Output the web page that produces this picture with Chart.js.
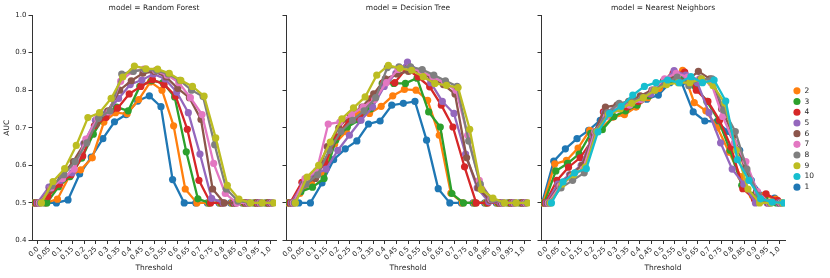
<!DOCTYPE html>
<html>
<head>
<meta charset="utf-8">
<script src="https://cdn.jsdelivr.net/npm/chart.js@4.4.1/dist/chart.umd.min.js"></script>
<style>
  html, body { margin: 0; padding: 0; background: #fff; }
  #wrap { position: relative; width: 830px; height: 278px; overflow: hidden; }
  #wrap canvas { position: absolute; top: 0; }
</style>
</head>
<body>
<div id="wrap">
  <canvas id="rf" width="280" height="278" style="left:0px"></canvas>
  <canvas id="dt" width="254" height="278" style="left:280px"></canvas>
  <canvas id="nn" width="289" height="278" style="left:535px"></canvas>
</div>
<script>
// ==========================================
// DATA
// ==========================================
const THRESHOLDS = ["0.0", "0.05", "0.1", "0.15", "0.2", "0.25", "0.3", "0.35", "0.4", "0.45",
  "0.5", "0.55", "0.6", "0.65", "0.7", "0.75", "0.8", "0.85", "0.9", "0.95", "1.0"];
const Y_TICKS = [0.4, 0.5, 0.6, 0.7, 0.8, 0.9, 1.0];
const SERIES = ["1", "2", "3", "4", "5", "6", "7", "8", "9", "10"];
const LEGEND_ORDER = ["2", "3", "4", "5", "6", "7", "8", "9", "10", "1"];
const COLORS = ["#1f77b4", "#ff7f0e", "#2ca02c", "#d62728", "#9467bd",
  "#8c564b", "#e377c2", "#7f7f7f", "#bcbd22", "#17becf"];

// model = Random Forest (series 10 not visible)
const RF_1 = [0.5, 0.5, 0.5, 0.508, 0.577, 0.622, 0.671, 0.716, 0.735, 0.771, 0.785, 0.756, 0.562, 0.5, 0.5, 0.5, 0.5, 0.5, 0.5, 0.5, 0.5];
const RF_2 = [0.5, 0.5, 0.51, 0.57, 0.588, 0.62, 0.715, 0.74, 0.737, 0.775, 0.822, 0.80, 0.705, 0.537, 0.5, 0.5, 0.5, 0.5, 0.5, 0.5, 0.5];
const RF_3 = [0.5, 0.5, 0.543, 0.57, 0.619, 0.683, 0.735, 0.755, 0.745, 0.81, 0.825, 0.82, 0.782, 0.636, 0.511, 0.5, 0.5, 0.5, 0.5, 0.5, 0.5];
const RF_4 = [0.5, 0.517, 0.55, 0.575, 0.625, 0.705, 0.727, 0.752, 0.79, 0.81, 0.828, 0.815, 0.784, 0.696, 0.56, 0.5, 0.5, 0.5, 0.5, 0.5, 0.5];
const RF_5 = [0.5, 0.542, 0.56, 0.58, 0.658, 0.72, 0.742, 0.778, 0.815, 0.827, 0.843, 0.83, 0.795, 0.74, 0.63, 0.512, 0.5, 0.5, 0.5, 0.5, 0.5];
const RF_6 = [0.5, 0.535, 0.57, 0.61, 0.66, 0.71, 0.745, 0.80, 0.825, 0.845, 0.85, 0.835, 0.805, 0.78, 0.722, 0.537, 0.5, 0.5, 0.5, 0.5, 0.5];
const RF_7 = [0.5, 0.54, 0.565, 0.59, 0.67, 0.725, 0.742, 0.824, 0.85, 0.856, 0.852, 0.84, 0.82, 0.78, 0.735, 0.605, 0.525, 0.5, 0.5, 0.5, 0.5];
const RF_8 = [0.5, 0.545, 0.575, 0.61, 0.66, 0.725, 0.745, 0.843, 0.85, 0.855, 0.852, 0.843, 0.826, 0.80, 0.783, 0.655, 0.537, 0.505, 0.5, 0.5, 0.5];
const RF_9 = [0.5, 0.557, 0.591, 0.653, 0.727, 0.74, 0.778, 0.835, 0.864, 0.857, 0.856, 0.845, 0.826, 0.81, 0.784, 0.673, 0.547, 0.51, 0.5, 0.5, 0.5];

// model = Decision Tree (series 10 not visible)
const DT_1 = [0.5, 0.5, 0.5, 0.553, 0.615, 0.644, 0.665, 0.71, 0.718, 0.76, 0.765, 0.77, 0.667, 0.538, 0.5, 0.5, 0.5, 0.5, 0.5, 0.5, 0.5];
const DT_2 = [0.5, 0.525, 0.553, 0.578, 0.657, 0.69, 0.738, 0.738, 0.757, 0.785, 0.802, 0.80, 0.773, 0.68, 0.526, 0.5, 0.5, 0.5, 0.5, 0.5, 0.5];
const DT_3 = [0.5, 0.53, 0.542, 0.565, 0.667, 0.702, 0.72, 0.75, 0.818, 0.818, 0.818, 0.832, 0.742, 0.702, 0.525, 0.5, 0.5, 0.5, 0.5, 0.5, 0.5];
const DT_4 = [0.5, 0.555, 0.567, 0.606, 0.676, 0.72, 0.724, 0.778, 0.82, 0.82, 0.858, 0.835, 0.809, 0.76, 0.702, 0.596, 0.5, 0.5, 0.5, 0.5, 0.5];
const DT_5 = [0.5, 0.55, 0.575, 0.59, 0.64, 0.68, 0.72, 0.755, 0.81, 0.845, 0.875, 0.85, 0.82, 0.77, 0.738, 0.63, 0.54, 0.503, 0.5, 0.5, 0.5];
const DT_6 = [0.5, 0.55, 0.565, 0.65, 0.70, 0.735, 0.755, 0.79, 0.83, 0.843, 0.85, 0.85, 0.83, 0.815, 0.79, 0.62, 0.54, 0.507, 0.5, 0.5, 0.5];
const DT_7 = [0.5, 0.565, 0.585, 0.71, 0.715, 0.735, 0.755, 0.775, 0.82, 0.855, 0.86, 0.85, 0.835, 0.82, 0.80, 0.68, 0.56, 0.51, 0.5, 0.5, 0.5];
const DT_8 = [0.5, 0.55, 0.575, 0.64, 0.69, 0.72, 0.745, 0.78, 0.86, 0.862, 0.862, 0.855, 0.84, 0.825, 0.81, 0.665, 0.55, 0.51, 0.5, 0.5, 0.5];
const DT_9 = [0.5, 0.569, 0.60, 0.662, 0.724, 0.753, 0.782, 0.84, 0.866, 0.858, 0.853, 0.836, 0.818, 0.813, 0.807, 0.696, 0.536, 0.513, 0.5, 0.5, 0.5];

// model = Nearest Neighbors
const NN_1 = [0.5, 0.611, 0.644, 0.671, 0.693, 0.72, 0.728, 0.738, 0.756, 0.776, 0.787, 0.82, 0.82, 0.742, 0.718, 0.716, 0.69, 0.64, 0.56, 0.52, 0.513];
const NN_2 = [0.5, 0.604, 0.613, 0.646, 0.693, 0.70, 0.728, 0.735, 0.755, 0.78, 0.805, 0.835, 0.853, 0.767, 0.745, 0.70, 0.635, 0.57, 0.52, 0.52, 0.51];
const NN_3 = [0.5, 0.585, 0.605, 0.63, 0.685, 0.695, 0.73, 0.745, 0.76, 0.785, 0.815, 0.825, 0.83, 0.81, 0.77, 0.72, 0.64, 0.547, 0.52, 0.51, 0.5];
const NN_4 = [0.5, 0.56, 0.595, 0.62, 0.665, 0.742, 0.75, 0.755, 0.77, 0.79, 0.815, 0.845, 0.848, 0.80, 0.77, 0.72, 0.648, 0.538, 0.51, 0.524, 0.507];
const NN_5 = [0.5, 0.55, 0.575, 0.60, 0.68, 0.74, 0.755, 0.765, 0.775, 0.79, 0.82, 0.852, 0.84, 0.82, 0.74, 0.66, 0.59, 0.55, 0.5, 0.5, 0.5];
const NN_6 = [0.5, 0.545, 0.575, 0.60, 0.685, 0.755, 0.76, 0.77, 0.785, 0.80, 0.825, 0.835, 0.825, 0.85, 0.83, 0.75, 0.68, 0.592, 0.53, 0.5, 0.5];
const NN_7 = [0.5, 0.545, 0.57, 0.59, 0.69, 0.73, 0.75, 0.76, 0.775, 0.80, 0.83, 0.845, 0.835, 0.83, 0.82, 0.73, 0.66, 0.61, 0.53, 0.5, 0.5];
const NN_8 = [0.5, 0.54, 0.56, 0.58, 0.69, 0.74, 0.765, 0.77, 0.78, 0.80, 0.82, 0.835, 0.812, 0.83, 0.83, 0.747, 0.69, 0.59, 0.52, 0.5, 0.5];
const NN_9 = [0.5, 0.55, 0.575, 0.595, 0.69, 0.735, 0.75, 0.765, 0.78, 0.80, 0.815, 0.82, 0.82, 0.83, 0.812, 0.766, 0.64, 0.537, 0.5, 0.5, 0.5];
const NN_10 = [0.5, 0.556, 0.58, 0.591, 0.689, 0.738, 0.757, 0.787, 0.81, 0.82, 0.827, 0.82, 0.836, 0.82, 0.827, 0.771, 0.615, 0.56, 0.511, 0.502, 0.5];

// ==========================================
// STYLE
// ==========================================
const FONT = "'DejaVu Sans', sans-serif";
const INK = "#262626";
const AXIS = "#333333";
// points of each hue are dodged sideways around the category centre
const DODGE = SERIES.map((s, k) => -0.4 + 0.8 * k / (SERIES.length - 1));

function buildDatasets(values) {
  const datasets = [];
  values.forEach((vals, k) => {
    if (!vals) return;
    datasets.push({
      label: SERIES[k],
      data: vals.map((v, i) => ({ x: i + DODGE[k], y: v })),
      borderColor: COLORS[k],
      backgroundColor: COLORS[k],
      pointBackgroundColor: COLORS[k],
      pointBorderColor: COLORS[k],
      borderWidth: 2.3,
      pointRadius: 3.6,
      pointHoverRadius: 3.6,
      pointBorderWidth: 0,
      tension: 0,
      clip: 0,
      order: SERIES.length - k, // later hues drawn on top
    });
  });
  return datasets;
}

// ==========================================
// FUNCTION: makePanel()
// one facet of the grid
// ==========================================
function makePanel(id, title, values, opts) {
  const scales = {
    x: {
      type: "linear",
      min: -0.5,
      max: THRESHOLDS.length - 0.5,
      afterBuildTicks: (s) => { s.ticks = THRESHOLDS.map((t, i) => ({ value: i })); },
      afterFit: (s) => { s.height = 37.5; },
      ticks: {
        autoSkip: false, minRotation: 45, maxRotation: 45, padding: 1,
        color: INK, font: { family: FONT, size: 7 },
        callback: (v) => THRESHOLDS[v],
      },
      grid: { display: true, drawOnChartArea: false, drawTicks: true, tickLength: 3.5, color: AXIS },
      border: { display: true, color: AXIS, width: 1 },
      title: { display: true, text: "Threshold", color: INK, font: { family: FONT, size: 7.5 }, padding: { top: 0, bottom: 5 } },
    },
    y: {
      type: "linear",
      min: 0.4,
      max: 1.0,
      afterBuildTicks: (s) => { s.ticks = Y_TICKS.map((v) => ({ value: v })); },
      afterFit: (s) => { s.width = opts.yWidth; },
      ticks: {
        display: opts.yLabels, padding: 2, color: INK, font: { family: FONT, size: 7 },
        callback: (v) => v.toFixed(1),
      },
      grid: { display: true, drawOnChartArea: false, drawTicks: true, tickLength: 3.5, color: AXIS },
      border: { display: true, color: AXIS, width: 1 },
      title: { display: opts.yLabels, text: "AUC", color: INK, font: { family: FONT, size: 7.5 }, padding: 3 },
    },
  };
  if (opts.legend) {
    // empty spacer between plot area and legend
    scales.gap = {
      type: "linear", position: "right", display: true,
      ticks: { display: false }, grid: { display: false, drawTicks: false }, border: { display: false },
      afterFit: (s) => { s.width = Math.max(0, s.chart.width - s.chart.legend.width - 250); },
    };
  }
  return new Chart(document.getElementById(id), {
    type: "line",
    data: { datasets: buildDatasets(values) },
    options: {
      responsive: false,
      animation: false,
      events: [],
      layout: { padding: { right: opts.legend ? 0 : 4 } },
      scales: scales,
      plugins: {
        tooltip: { enabled: false },
        title: {
          display: true, text: title, fullSize: false, color: INK,
          font: { family: FONT, size: 7.5, weight: "normal" },
          padding: { top: 4, bottom: 2 },
        },
        legend: {
          display: !!opts.legend,
          position: "right",
          align: "center",
          labels: {
            usePointStyle: true, pointStyle: "circle",
            boxWidth: 7.5, boxHeight: 5, padding: 3.2,
            color: INK, font: { family: FONT, size: 7.5 },
            sort: (a, b) => LEGEND_ORDER.indexOf(a.text) - LEGEND_ORDER.indexOf(b.text),
          },
        },
      },
    },
  });
}

makePanel("rf", "model = Random Forest",
  [RF_1, RF_2, RF_3, RF_4, RF_5, RF_6, RF_7, RF_8, RF_9, null],
  { yWidth: 32, yLabels: true });
makePanel("dt", "model = Decision Tree",
  [DT_1, DT_2, DT_3, DT_4, DT_5, DT_6, DT_7, DT_8, DT_9, null],
  { yWidth: 6, yLabels: false });
makePanel("nn", "model = Nearest Neighbors",
  [NN_1, NN_2, NN_3, NN_4, NN_5, NN_6, NN_7, NN_8, NN_9, NN_10],
  { yWidth: 6, yLabels: false, legend: true });
</script>
</body>
</html>
